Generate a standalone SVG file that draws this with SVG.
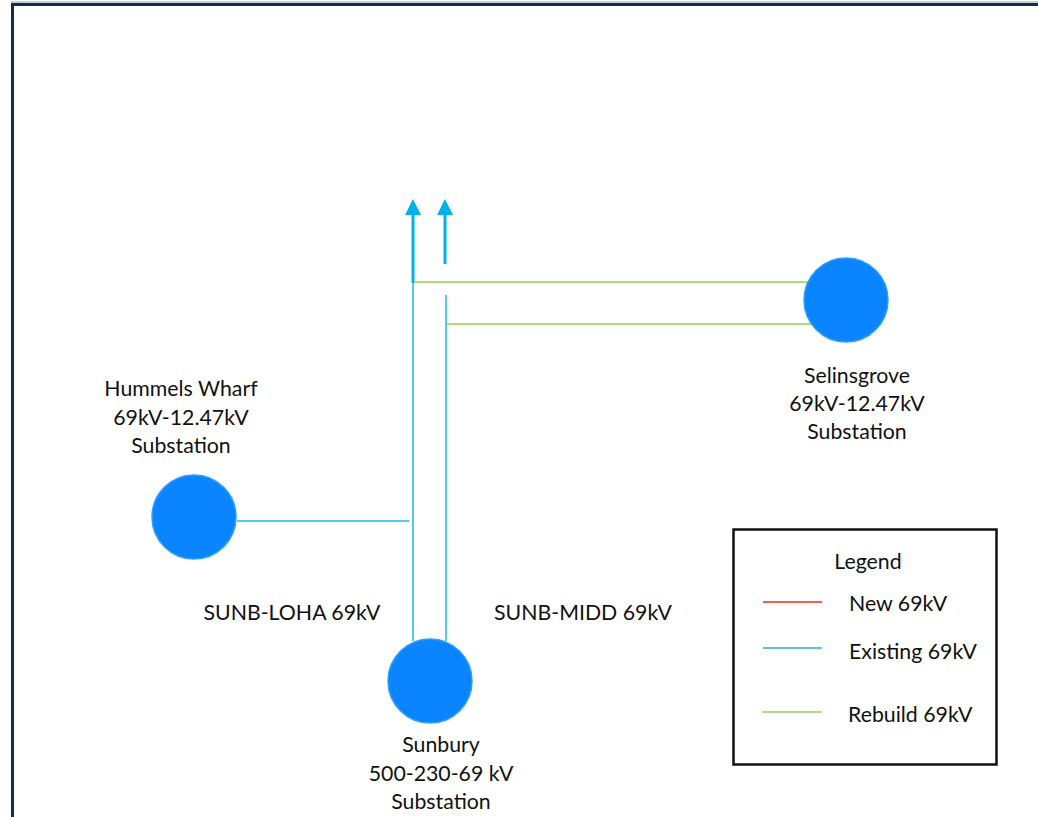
<svg xmlns="http://www.w3.org/2000/svg" width="1038" height="817" viewBox="0 0 1038 817">
<defs>
<style>
text{font-family:Lato,"Open Sans","Liberation Sans",sans-serif;font-size:21.3px;fill:#111}
.sub{fill:#0A84FF;stroke:#2AA0FF;stroke-width:1.5}
.ex{stroke:#55C8F2;stroke-width:2;fill:none}
.exb{stroke:#00B0F0;stroke-width:3;fill:none}
.rb{stroke:#92D050;stroke-width:1.5;fill:none}
.nw{stroke:#FF2020;stroke-width:1.5;fill:none}
</style>
</defs>
<rect x="0" y="0" width="1038" height="817" fill="#fff"/>
<path d="M12.5,817 V4.5 H1038" fill="none" stroke="#0F2D52" stroke-width="3"/>
<path d="M11,2 H1038" fill="none" stroke="#8A9BB0" stroke-width="1"/>
<g id="connectors">
<line class="exb" x1="413" y1="283" x2="413" y2="214"/>
<path d="M405,215 L413,199 L421,215 Z" fill="#00B0F0"/>
<line class="exb" x1="445" y1="264" x2="445" y2="214"/>
<path d="M437,215 L445,199 L453,215 Z" fill="#00B0F0"/>
<line class="ex" x1="413" y1="283" x2="413" y2="641"/>
<line class="ex" x1="446" y1="295" x2="446" y2="641"/>
<line class="rb" x1="414" y1="282" x2="808" y2="282"/>
<line class="rb" x1="447" y1="324" x2="812" y2="324"/>
<line class="ex" x1="237" y1="521" x2="409" y2="521"/>
</g>
<g id="hummels">
<circle class="sub" cx="194" cy="517" r="42"/>
<text x="181" y="396" text-anchor="middle">Hummels Wharf</text>
<text x="181" y="425" text-anchor="middle">69kV-12.47kV</text>
<text x="181" y="453" text-anchor="middle">Substation</text>
</g>
<g id="selinsgrove">
<circle class="sub" cx="846" cy="300" r="42"/>
<text x="857" y="383" text-anchor="middle">Selinsgrove</text>
<text x="857" y="411" text-anchor="middle">69kV-12.47kV</text>
<text x="857" y="439" text-anchor="middle">Substation</text>
</g>
<g id="sunbury">
<circle class="sub" cx="430" cy="681" r="42"/>
<text x="441" y="752" text-anchor="middle">Sunbury</text>
<text x="441" y="781" text-anchor="middle">500-230-69 kV</text>
<text x="441" y="809" text-anchor="middle">Substation</text>
</g>
<g id="labels">
<text x="292" y="620" text-anchor="middle">SUNB-LOHA 69kV</text>
<text x="583" y="620" text-anchor="middle">SUNB-MIDD 69kV</text>
</g>
<g id="legend">
<rect x="733.5" y="529.5" width="263" height="235" fill="#fff" stroke="#111" stroke-width="2.5"/>
<text x="868" y="569" text-anchor="middle">Legend</text>
<line class="nw" x1="763" y1="602" x2="822" y2="602"/>
<text x="849" y="611">New 69kV</text>
<line x1="763" y1="648" x2="822" y2="648" style="stroke-width:1.5;stroke:#20B0F0"/>
<text x="849" y="659">Existing 69kV</text>
<line class="rb" x1="762" y1="712" x2="822" y2="712"/>
<text x="848" y="722">Rebuild 69kV</text>
</g>
</svg>
